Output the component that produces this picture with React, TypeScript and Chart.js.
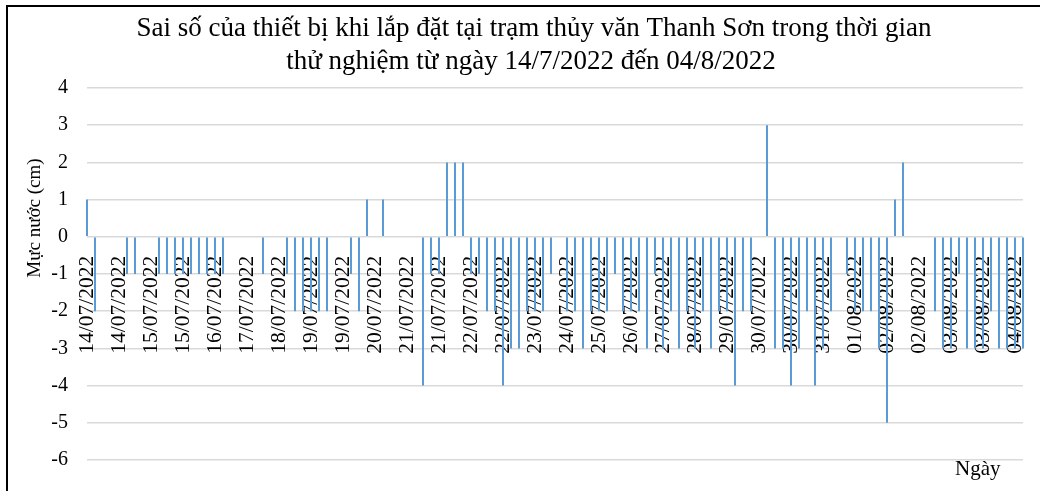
import React, { useEffect, useRef } from "react";
import { Chart, registerables } from "chart.js";

Chart.register(...registerables);

const titleLines = [
  "Sai số của thiết bị khi lắp đặt tại trạm thủy văn Thanh Sơn trong thời gian",
  "thử nghiệm từ ngày 14/7/2022 đến 04/8/2022",
];
const yAxisTitle = "Mực nước (cm)";
const xAxisTitle = "Ngày";

// one date label for every 4th measurement
const tickLabels = [
  "14/07/2022", "14/07/2022", "15/07/2022", "15/07/2022", "16/07/2022",
  "17/07/2022", "18/07/2022", "19/07/2022", "19/07/2022", "20/07/2022",
  "21/07/2022", "21/07/2022", "22/07/2022", "22/07/2022", "23/07/2022",
  "24/07/2022", "25/07/2022", "26/07/2022", "27/07/2022", "28/07/2022",
  "29/07/2022", "30/07/2022", "30/07/2022", "31/07/2022", "01/08/2022",
  "02/08/2022", "02/08/2022", "03/08/2022", "03/08/2022", "04/08/2022",
];
const labelEvery = 4;

// measurement error (cm)
const errorValues = [
  1, -2, 0, 0, 0, -1, -1, 0, 0, -1,
  -1, -1, -1, -1, -1, -1, -1, -1, 0, 0,
  0, 0, -1, 0, 0, -1, -2, -2, -2, -2,
  -2, 0, 0, -1, -2, 1, 0, 1, 0, 0,
  0, 0, -4, -1, -1, 2, 2, 2, -1, -1,
  -2, -2, -4, -3, -3, -2, -2, -2, -1, 0,
  -2, -2, -3, -2, -2, -2, -1, -2, -2, -2,
  -3, -1, -3, -2, -3, -2, -3, -2, -3, -2,
  -2, -4, -2, -2, 0, 3, -3, -3, -4, -3,
  -2, -4, -3, -2, 0, -1, -2, -2, -2, -3,
  -5, 1, 2, 0, 0, 0, -2, -3, -3, -1,
  -3, -3, -3, -2, -3, -3, -3, -3,
];

const yMin = -6;
const yMax = 4;
const yStep = 1;

const categories = errorValues.map((_, i) =>
  i % labelEvery === 0 ? tickLabels[i / labelEvery] ?? "" : ""
);

const SERIF = '"Liberation Serif", "Times New Roman", serif';

const textPlugin = {
  id: "textOverlay",
  afterDraw(chart: any) {
    const ctx = chart.ctx as CanvasRenderingContext2D;
    ctx.save();
    ctx.fillStyle = "#000";
    ctx.textBaseline = "alphabetic";
    ctx.textAlign = "center";
    ctx.font = `27px ${SERIF}`;
    ctx.fillText(titleLines[0], 534, 36);
    ctx.fillText(titleLines[1], 531, 69);
    ctx.restore();

    ctx.save();
    ctx.fillStyle = "#000";
    ctx.font = `19px ${SERIF}`;
    ctx.textAlign = "center";
    ctx.textBaseline = "alphabetic";
    ctx.translate(40, 218);
    ctx.rotate(-Math.PI / 2);
    ctx.fillText(yAxisTitle, 0, 0);
    ctx.restore();

    ctx.save();
    ctx.fillStyle = "#000";
    ctx.font = `21px ${SERIF}`;
    ctx.textAlign = "left";
    ctx.textBaseline = "alphabetic";
    ctx.fillText(xAxisTitle, 955, 475);
    ctx.restore();
  },
};

export default function App() {
  const ref = useRef<HTMLCanvasElement | null>(null);

  useEffect(() => {
    if (!ref.current) return;
    const chart = new Chart(ref.current, {
      type: "bar",
      data: {
        labels: categories,
        datasets: [
          {
            data: errorValues,
            backgroundColor: "#5B9BD5",
            borderWidth: 0,
            barThickness: 2,
            inflateAmount: 0,
            clip: false as any,
          },
        ],
      },
      options: {
        responsive: false,
        animation: false,
        devicePixelRatio: 1,
        layout: { padding: { top: 88, bottom: 26, left: 0, right: 97 } },
        plugins: {
          legend: { display: false },
          title: { display: false },
          tooltip: { enabled: false },
        },
        scales: {
          x: {
            type: "category",
            position: { y: 0 } as any,
            offset: false,
            grid: { display: false, drawTicks: false },
            border: { display: false },
            ticks: {
              autoSkip: false,
              minRotation: 90,
              maxRotation: 90,
              padding: 19,
              color: "#000",
              font: { family: SERIF, size: 21.5 },
              callback: (_v: any, i: number) => categories[i],
            },
          },
          y: {
            min: yMin,
            max: yMax,
            ticks: {
              stepSize: yStep,
              color: "#000",
              padding: 19,
              font: { family: SERIF, size: 20 },
            },
            grid: { color: "#d9d9d9", lineWidth: 1.5, drawTicks: false },
            border: { display: false },
            afterFit: (s: any) => {
              s.width = 87;
            },
          },
        },
      },
      plugins: [textPlugin],
    });
    return () => chart.destroy();
  }, []);

  return (
    <div
      style={{
        position: "fixed",
        left: 0,
        top: 0,
        width: 1040,
        height: 491,
        overflow: "hidden",
        background: "#fff",
      }}
    >
      <canvas
        ref={ref}
        width={1120}
        height={491}
        style={{ position: "absolute", left: 0, top: 0, width: 1120, height: 491 }}
      />
      <div
        style={{
          position: "absolute",
          left: 6,
          top: 5,
          width: 1100,
          height: 600,
          border: "2px solid #000",
          pointerEvents: "none",
        }}
      />
    </div>
  );
}
